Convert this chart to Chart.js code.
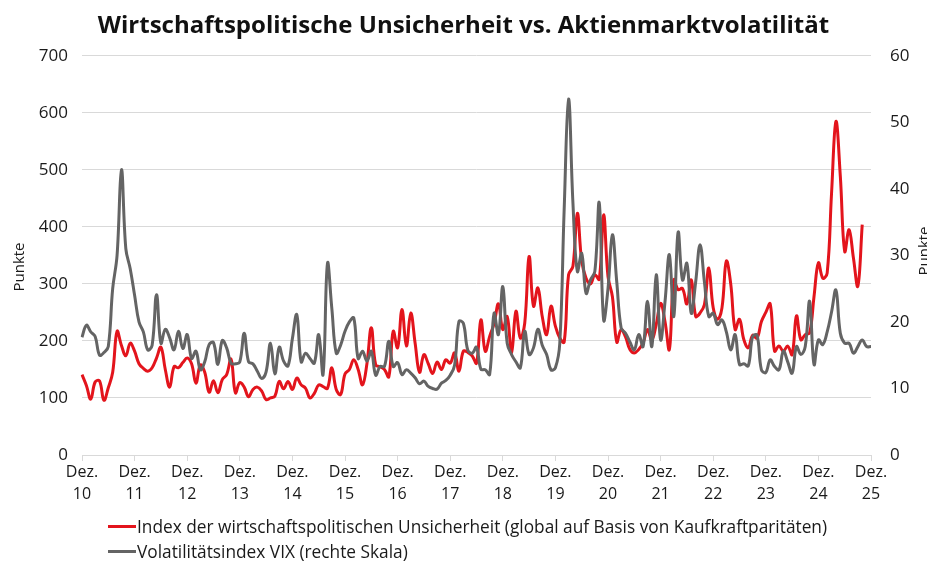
<!DOCTYPE html>
<html><head><meta charset="utf-8">
<script src="https://cdn.jsdelivr.net/npm/chart.js@4"></script>
<style>
html,body{margin:0;padding:0;background:#fff;overflow:hidden}
#wrap{position:relative;width:927px;height:563px}
canvas{display:block}
#legend{position:absolute;left:108px;top:514px;font:17.3px "Open Sans",sans-serif;color:#1a1a1a}
.item{display:flex;align-items:center;height:25px;white-space:nowrap}
.sw{width:28px;height:3px;margin-right:1px}
</style></head><body>
<div id="wrap"><canvas id="c" width="927" height="563"></canvas><div id="legend"></div></div>
<script>
// ---- data ----
const monthNames = ["Jan.","Feb.","Mär.","Apr.","Mai","Jun.","Jul.","Aug.","Sep.","Okt.","Nov.","Dez."];
const firstYear = 2010;          // first point: Dez. 2010
const monthCount = 181;          // Dez. 2010 ... Dez. 2025
const seriesNames = [
  "Index der wirtschaftspolitischen Unsicherheit (global auf Basis von Kaufkraftparitäten)",
  "Volatilitätsindex VIX (rechte Skala)"
];
const chartTitle = "Wirtschaftspolitische Unsicherheit vs. Aktienmarktvolatilität";
const axisTitle = "Punkte";
const leftTicks = [0,100,200,300,400,500,600,700];
const rightTicks = [0,10,20,30,40,50,60];

const epu = [141,122,98,128,130,96,118,145,217,192,174,196,182,160,152,147,153,170,189,150,
  119,155,153,162,170,160,126,158,145,110,130,109,132,141,168,109,127,119,102,115,
  119,112,97,100,103,129,116,129,115,135,123,117,100,108,123,120,117,153,115,106,
  142,150,167,150,123,160,223,158,155,150,137,217,188,255,191,249,196,145,176,160,
  143,163,150,167,161,179,147,182,180,174,161,237,182,208,230,265,220,243,179,252,
  205,231,348,261,293,243,211,261,226,205,198,316,331,424,340,310,300,316,308,421,
  313,278,198,220,207,185,179,185,196,220,202,229,266,234,185,307,290,292,265,307,
  243,249,264,328,258,238,258,340,300,220,238,202,188,210,205,234,250,265,182,191,
  182,191,176,244,202,211,214,278,337,310,319,459,585,489,357,395,345,296,404];

const vix = [17.7,19.5,18.5,17.8,15.0,15.4,16.3,25.0,30.0,42.9,31.0,28.0,24.0,20.0,18.5,15.8,16.5,24.1,16.8,18.9,
  17.6,15.8,18.6,16.0,18.1,14.5,15.6,12.8,14.0,16.6,16.9,13.6,17.2,16.1,13.8,13.7,14.0,18.3,14.0,13.7,
  12.6,11.5,12.5,16.8,12.2,16.2,14.1,13.4,17.5,21.1,14.0,15.3,14.5,13.8,18.1,12.1,28.8,22.0,15.3,16.5,
  18.6,20.0,20.6,14.5,15.6,14.1,15.6,12.0,13.3,13.3,17.1,13.3,13.9,12.1,12.8,12.3,11.6,10.7,11.1,10.3,
  10.0,9.9,10.8,11.2,12.0,13.5,20.1,19.8,15.8,15.3,16.2,12.9,12.8,12.1,21.3,18.1,25.3,16.8,15.1,14.0,
  13.1,18.6,15.1,16.1,18.9,16.5,15.1,12.8,13.1,16.8,36.9,53.5,37.9,27.6,30.3,24.3,26.3,27.6,37.9,20.3,
  25.0,33.1,26.0,19.1,18.3,17.0,15.8,18.1,16.3,23.1,16.3,27.1,17.3,23.0,30.1,20.8,33.5,26.3,28.8,21.3,
  26.0,31.6,26.0,20.8,21.3,19.6,20.3,18.5,15.8,18.1,13.6,13.7,13.4,17.8,18.0,12.8,12.4,14.3,13.3,12.8,
  15.6,14.0,12.3,16.3,15.1,16.3,23.1,13.6,17.3,16.6,18.5,21.5,24.8,18.3,16.8,16.8,15.3,16.3,17.3,16.3,16.3];

const RED = "#e3141c", GREY = "#646464";
const FONT = "'Open Sans', sans-serif";

// month category labels
const labels = [];
for (let i = 0; i < monthCount; i++) {
  const mi = (11 + i) % 12;
  const yr = firstYear + Math.floor((11 + i) / 12);
  labels.push(monthNames[mi] + " " + String(yr).slice(2));
}

// HTML legend
const leg = document.getElementById('legend');
[[seriesNames[0], RED], [seriesNames[1], GREY]].forEach(([t, c]) => {
  const d = document.createElement('div'); d.className = 'item';
  const s = document.createElement('span'); s.className = 'sw'; s.style.background = c;
  const tx = document.createElement('span'); tx.textContent = t;
  d.appendChild(s); d.appendChild(tx); leg.appendChild(d);
});

const axisTitles = {
  id: 'axisTitles',
  afterDraw(chart) {
    const ctx = chart.ctx;
    [[24, 267], [929, 251]].forEach(([x, y]) => {
      ctx.save();
      ctx.font = "15px " + FONT;
      ctx.fillStyle = "#1a1a1a";
      ctx.textAlign = "center";
      ctx.textBaseline = "alphabetic";
      ctx.translate(x, y); ctx.rotate(-Math.PI / 2); ctx.fillText(axisTitle, 0, 0);
      ctx.restore();
    });
  }
};

new Chart(document.getElementById('c'), {
  type: 'line',
  data: {
    labels,
    datasets: [
      { label: seriesNames[0], data: epu, yAxisID: 'y', borderColor: RED, backgroundColor: RED,
        borderWidth: 3, pointRadius: 0, tension: 0.4, order: 2 },
      { label: seriesNames[1], data: vix, yAxisID: 'y1', borderColor: GREY, backgroundColor: GREY,
        borderWidth: 3, pointRadius: 0, tension: 0.4, order: 1 }
    ]
  },
  options: {
    responsive: false, animation: false, devicePixelRatio: 1,
    layout: { padding: { left: 0, right: 0, top: 0, bottom: 58 } },
    plugins: {
      legend: { display: false }, tooltip: { enabled: false },
      title: { display: true, text: chartTitle, color: '#111',
        font: { family: FONT, size: 24, weight: 'bold' }, padding: { top: 12, bottom: 15 } }
    },
    scales: {
      x: {
        type: 'category', offset: false,
        grid: { display: true, drawOnChartArea: false, drawTicks: true, tickLength: 6, color: '#d9d9d9' },
        border: { display: true, color: '#d9d9d9' },
        ticks: { autoSkip: false, maxRotation: 0, minRotation: 0, padding: 1, color: '#1a1a1a',
          font: { family: FONT, size: 16, lineHeight: 1.35 },
          callback: (v, i) => labels[i].startsWith("Dez.") ? ["Dez.", labels[i].slice(5)] : null },
        afterFit: s => { s.height = 50; }
      },
      y: {
        position: 'left', min: 0, max: 700,
        afterBuildTicks: s => { s.ticks = leftTicks.map(v => ({ value: v })); },
        grid: { color: '#d9d9d9', drawTicks: false },
        border: { display: false },
        ticks: { padding: 14, color: '#1a1a1a', font: { family: FONT, size: 17 } },
        afterFit: s => { s.width = 82; }
      },
      y1: {
        position: 'right', min: 0, max: 60,
        afterBuildTicks: s => { s.ticks = rightTicks.map(v => ({ value: v })); },
        grid: { drawOnChartArea: false, drawTicks: false },
        border: { display: false },
        ticks: { padding: 19, color: '#1a1a1a', font: { family: FONT, size: 17 } },
        afterFit: s => { s.width = 56; }
      }
    }
  },
  plugins: [axisTitles]
});
</script>
</body></html>
